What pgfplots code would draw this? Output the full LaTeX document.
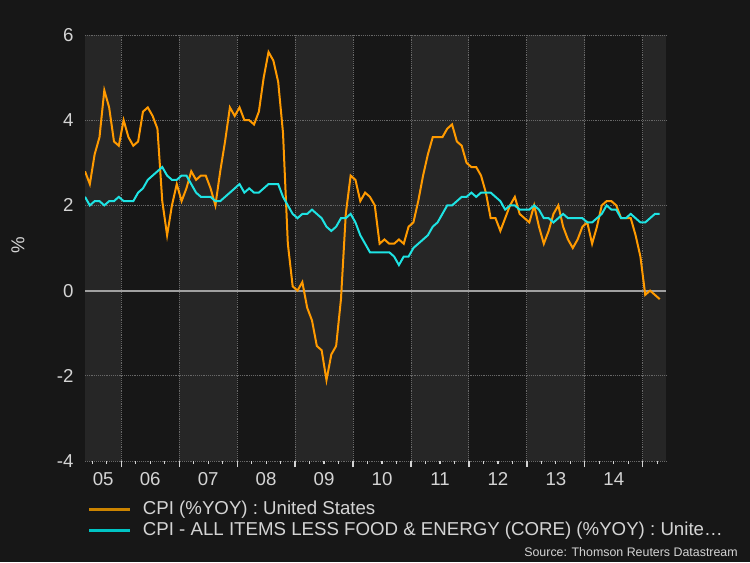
\documentclass[border=0pt]{standalone}
\usepackage{pgfplots}
\pgfplotsset{compat=1.18}
\usepackage{pgfplotstable}
\usepackage{fontspec}
\setmainfont{Liberation Sans}

\definecolor{bg}{HTML}{171717}
\definecolor{band}{HTML}{262626}
\definecolor{txt}{HTML}{D4D4D4}
\definecolor{gridc}{HTML}{686868}
\definecolor{zeroc}{HTML}{A0A0A0}
\definecolor{cpi}{HTML}{FF9A00}
\definecolor{core}{HTML}{1EE3E3}
\definecolor{cpileg}{HTML}{CC8400}
\definecolor{coreleg}{HTML}{00C4C4}
\pagecolor{bg}

% t = month index (Jan 2005 = 0.5, mid-month), values in % yoy
\pgfplotstableread{
t     cpi   core
4.5   2.8   2.2
5.5   2.5   2.0
6.5   3.2   2.1
7.5   3.6   2.1
8.5   4.7   2.0
9.5   4.3   2.1
10.5  3.5   2.1
11.5  3.4   2.2
12.5  4.0   2.1
13.5  3.6   2.1
14.5  3.4   2.1
15.5  3.5   2.3
16.5  4.2   2.4
17.5  4.3   2.6
18.5  4.1   2.7
19.5  3.8   2.8
20.5  2.1   2.9
21.5  1.3   2.7
22.5  2.0   2.6
23.5  2.5   2.6
24.5  2.1   2.7
25.5  2.4   2.7
26.5  2.8   2.5
27.5  2.6   2.3
28.5  2.7   2.2
29.5  2.7   2.2
30.5  2.4   2.2
31.5  2.0   2.1
32.5  2.8   2.1
33.5  3.5   2.2
34.5  4.3   2.3
35.5  4.1   2.4
36.5  4.3   2.5
37.5  4.0   2.3
38.5  4.0   2.4
39.5  3.9   2.3
40.5  4.2   2.3
41.5  5.0   2.4
42.5  5.6   2.5
43.5  5.4   2.5
44.5  4.9   2.5
45.5  3.7   2.2
46.5  1.1   2.0
47.5  0.1   1.8
48.5  0.0   1.7
49.5  0.2   1.8
50.5  -0.4  1.8
51.5  -0.7  1.9
52.5  -1.3  1.8
53.5  -1.4  1.7
54.5  -2.1  1.5
55.5  -1.5  1.4
56.5  -1.3  1.5
57.5  -0.2  1.7
58.5  1.8   1.7
59.5  2.7   1.8
60.5  2.6   1.6
61.5  2.1   1.3
62.5  2.3   1.1
63.5  2.2   0.9
64.5  2.0   0.9
65.5  1.1   0.9
66.5  1.2   0.9
67.5  1.1   0.9
68.5  1.1   0.8
69.5  1.2   0.6
70.5  1.1   0.8
71.5  1.5   0.8
72.5  1.6   1.0
73.5  2.1   1.1
74.5  2.7   1.2
75.5  3.2   1.3
76.5  3.6   1.5
77.5  3.6   1.6
78.5  3.6   1.8
79.5  3.8   2.0
80.5  3.9   2.0
81.5  3.5   2.1
82.5  3.4   2.2
83.5  3.0   2.2
84.5  2.9   2.3
85.5  2.9   2.2
86.5  2.7   2.3
87.5  2.3   2.3
88.5  1.7   2.3
89.5  1.7   2.2
90.5  1.4   2.1
91.5  1.7   1.9
92.5  2.0   2.0
93.5  2.2   2.0
94.5  1.8   1.9
95.5  1.7   1.9
96.5  1.6   1.9
97.5  2.0   2.0
98.5  1.5   1.9
99.5  1.1   1.7
100.5 1.4   1.7
101.5 1.8   1.6
102.5 2.0   1.7
103.5 1.5   1.8
104.5 1.2   1.7
105.5 1.0   1.7
106.5 1.2   1.7
107.5 1.5   1.7
108.5 1.6   1.6
109.5 1.1   1.6
110.5 1.5   1.7
111.5 2.0   1.8
112.5 2.1   2.0
113.5 2.1   1.9
114.5 2.0   1.9
115.5 1.7   1.7
116.5 1.7   1.7
117.5 1.7   1.8
118.5 1.3   1.7
119.5 0.8   1.6
120.5 -0.1  1.6
121.5 0.0   1.7
122.5 -0.1  1.8
123.5 -0.2  1.8
}\data

\begin{document}
\begin{tikzpicture}
\path (0,0) rectangle (562.5pt,421.5pt);
\begin{axis}[
    at={(63.75pt,75.75pt)}, anchor=south west,
    scale only axis, width=435.75pt, height=319.5pt,
    set layers,
    xmin=4.5, xmax=124.8, ymin=-4, ymax=6,
    axis line style={draw=none},
    xtick={12,24,36,48,60,72,84,96,108,120}, xticklabels={},
    minor xtick={6,9,15,18,21,27,30,33,39,42,45,51,54,57,63,66,69,75,78,81,87,90,93,99,102,105,111,114,117,123},
    extra x ticks={8.27,18,30,42,54,66,78,90,102,114},
    extra x tick labels={05,06,07,08,09,10,11,12,13,14},
    extra x tick style={grid=none, major tick length=0pt},
    ytick={-4,-2,2,4,6}, yticklabels={-4,-2,2,4,6},
    extra y ticks={0}, extra y tick labels={0},
    extra y tick style={grid=major, major grid style={solid, zeroc, line width=1.4pt}},
    grid=major,
    major grid style={gridc, densely dotted, line width=0.7pt},
    xtick pos=lower, ytick pos=left,
    tick align=outside,
    major tick length=4.5pt, minor tick length=2.25pt,
    tick style={txt, line width=0.9pt},
    y tick style={draw=none},
    ticklabel style={font=\fontsize{14pt}{16pt}\selectfont, text=txt},
    xticklabel style={inner sep=0pt, yshift=-8.25pt},
    yticklabel style={inner sep=0pt, xshift=-4pt},
    legend image code/.code={\draw[#1] (0pt,0pt) -- (30.75pt,0pt);},
    legend cell align=left,
    legend style={at={(0,0)}, anchor=north west, xshift=1.8pt, yshift=-30pt,
        draw=none, fill=none, inner sep=0pt, row sep=2.5pt, column sep=8.5pt,
        font=\fontsize{14pt}{16pt}\selectfont, text=txt,
        nodes={inner sep=0pt, text height=10pt, text depth=3pt}},
]
\begin{pgfonlayer}{axis background}
    \fill[band] (axis cs:4.5,-4) rectangle (axis cs:12,6);
    \fill[band] (axis cs:24,-4) rectangle (axis cs:36,6);
    \fill[band] (axis cs:48,-4) rectangle (axis cs:60,6);
    \fill[band] (axis cs:72,-4) rectangle (axis cs:84,6);
    \fill[band] (axis cs:96,-4) rectangle (axis cs:108,6);
    \fill[band] (axis cs:120,-4) rectangle (axis cs:124.8,6);
\end{pgfonlayer}
\addplot[cpi, line width=1.5pt, forget plot] table[x=t, y=cpi] {\data};
\addplot[core, line width=1.5pt, forget plot] table[x=t, y=core] {\data};
\addlegendimage{cpileg, line width=2.2pt}
\addlegendentry{CPI (\%YOY) : United States}
\addlegendimage{coreleg, line width=2.2pt}
\addlegendentry{CPI - ALL ITEMS LESS FOOD \& ENERGY (CORE) (\%YOY) : Unite…}
\end{axis}
\node[rotate=90, font=\fontsize{14pt}{16pt}\selectfont, text=txt] at (13.5pt,237.75pt) {\%};
\node[anchor=base east, inner sep=0pt, font=\fontsize{9.3pt}{11pt}\selectfont, text=txt] at (553.5pt,4.1pt) {Source: Thomson Reuters Datastream};
\end{tikzpicture}
\end{document}
